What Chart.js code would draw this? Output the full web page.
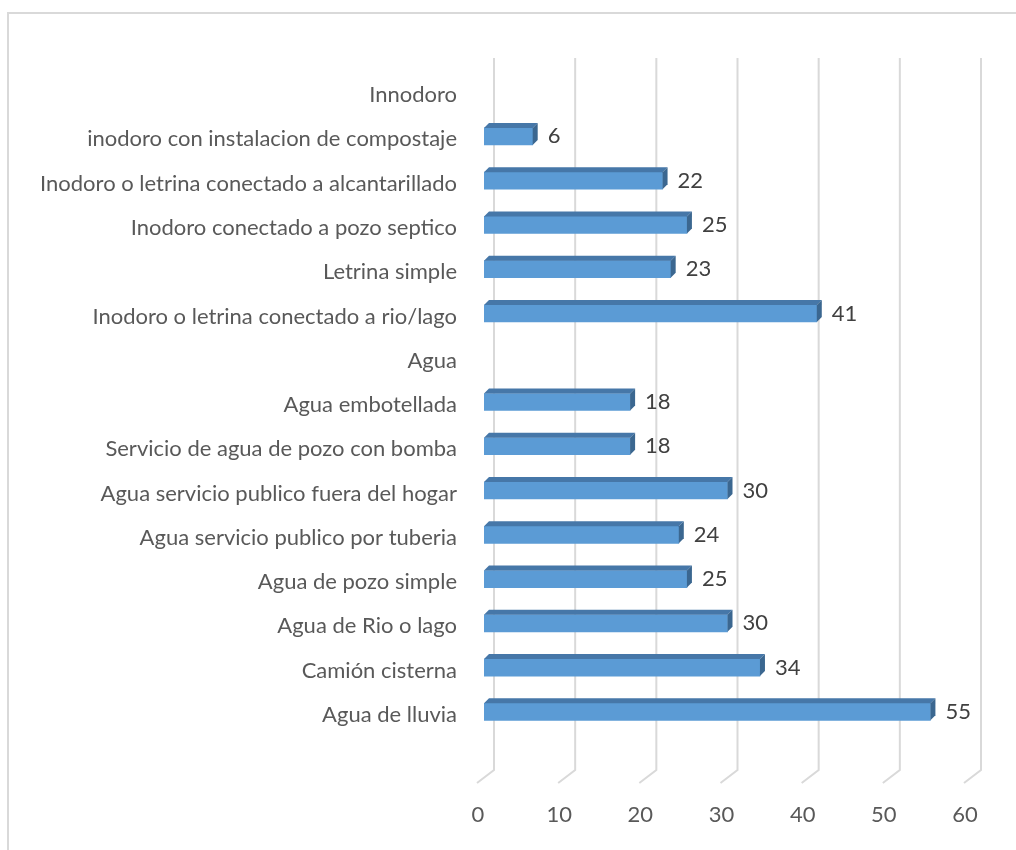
<!DOCTYPE html>
<html>
<head>
<meta charset="utf-8">
<script src="https://cdn.jsdelivr.net/npm/chart.js@4"></script>
<style>
  html, body { margin: 0; padding: 0; background: #fff; }
  #wrap { position: relative; width: 1016px; height: 850px; overflow: hidden; }
  #marco { position: absolute; left: 7px; top: 12px; width: 1100px; height: 900px;
           border: 2px solid #d9d9d9; box-sizing: border-box; pointer-events: none; }
</style>
</head>
<body>
<div id="wrap">
  <canvas id="grafico" width="1016" height="850"></canvas>
  <div id="marco"></div>
</div>
<script>
const categorias = [
    "Innodoro",
    "inodoro con instalacion de compostaje",
    "Inodoro o letrina conectado a alcantarillado",
    "Inodoro conectado a pozo septico",
    "Letrina simple",
    "Inodoro o letrina conectado a rio/lago",
    "Agua",
    "Agua embotellada",
    "Servicio de agua de pozo con bomba",
    "Agua servicio publico fuera del hogar",
    "Agua servicio publico por tuberia",
    "Agua de pozo simple",
    "Agua de Rio o lago",
    "Camión cisterna",
    "Agua de lluvia"
];
const valores = [null, 6, 22, 25, 23, 41, null, 18, 18, 30, 24, 25, 30, 34, 55];
const escalaX = [0, 10, 20, 30, 40, 50, 60];

const fuente = "Lato, 'Open Sans', sans-serif";
const prof = 5;          // profundidad de las barras
const fondoDx = 10;      // desplazamiento de la pared del fondo
const frenteDx = -7;     // borde delantero del piso

// rejilla en perspectiva (pared del fondo + piso)
const rejilla3d = {
    id: "rejilla3d",
    beforeDatasetsDraw(chart) {
        const ctx = chart.ctx;
        const x = chart.scales.x;
        ctx.save();
        ctx.strokeStyle = "#d9d9d9";
        ctx.lineWidth = 2;
        escalaX.forEach((v) => {
            const px = x.getPixelForValue(v);
            ctx.beginPath();
            ctx.moveTo(px + fondoDx, 58);
            ctx.lineTo(px + fondoDx, 770);
            ctx.lineTo(px + frenteDx, 783);
            ctx.stroke();
        });
        ctx.restore();
    },
    afterDatasetsDraw(chart) {
        const ctx = chart.ctx;
        const meta = chart.getDatasetMeta(0);
        ctx.save();
        meta.data.forEach((bar, i) => {
            if (valores[i] === null) return;
            const p = bar.getProps(["x", "y", "base", "height"], true);
            const top = p.y - p.height / 2;
            const bottom = p.y + p.height / 2;
            const x0 = p.base;
            const x1 = p.x;
            // cara superior
            ctx.fillStyle = "#4677a8";
            ctx.beginPath();
            ctx.moveTo(x0, top);
            ctx.lineTo(x0 + prof, top - prof);
            ctx.lineTo(x1 + prof, top - prof);
            ctx.lineTo(x1, top);
            ctx.closePath();
            ctx.fill();
            // cara lateral
            ctx.fillStyle = "#3b6790";
            ctx.beginPath();
            ctx.moveTo(x1, top);
            ctx.lineTo(x1 + prof, top - prof);
            ctx.lineTo(x1 + prof, bottom - prof);
            ctx.lineTo(x1, bottom);
            ctx.closePath();
            ctx.fill();
            // etiqueta de valor
            ctx.fillStyle = "#404040";
            ctx.font = "22px " + fuente;
            ctx.textAlign = "left";
            ctx.textBaseline = "middle";
            ctx.fillText(String(valores[i]), x1 + prof + 10, p.y);
        });
        ctx.restore();
    }
};

new Chart(document.getElementById("grafico"), {
    type: "bar",
    data: {
        labels: categorias,
        datasets: [{
            data: valores,
            backgroundColor: "#5b9bd5",
            borderWidth: 0,
            barThickness: 17
        }]
    },
    options: {
        indexAxis: "y",
        responsive: false,
        animation: false,
        layout: { padding: { top: 70, right: 45, left: 0, bottom: 0 } },
        plugins: { legend: { display: false }, tooltip: { enabled: false } },
        scales: {
            x: {
                min: 0,
                max: 60,
                grid: { display: false, drawTicks: false },
                border: { display: false },
                afterFit: (axis) => {
                    axis.height = 116;
                    axis.paddingLeft = 0;
                    axis.paddingRight = 0;
                },
                ticks: {
                    stepSize: 10,
                    padding: 68,
                    labelOffset: -6,
                    color: "#595959",
                    font: { family: fuente, size: 22 }
                }
            },
            y: {
                grid: { display: false, drawTicks: false },
                border: { display: false },
                afterFit: (axis) => { axis.width = 484; },
                ticks: {
                    autoSkip: false,
                    padding: 27,
                    labelOffset: 3,
                    color: "#595959",
                    font: { family: fuente, size: 22 }
                }
            }
        }
    },
    plugins: [rejilla3d]
});
</script>
</body>
</html>
